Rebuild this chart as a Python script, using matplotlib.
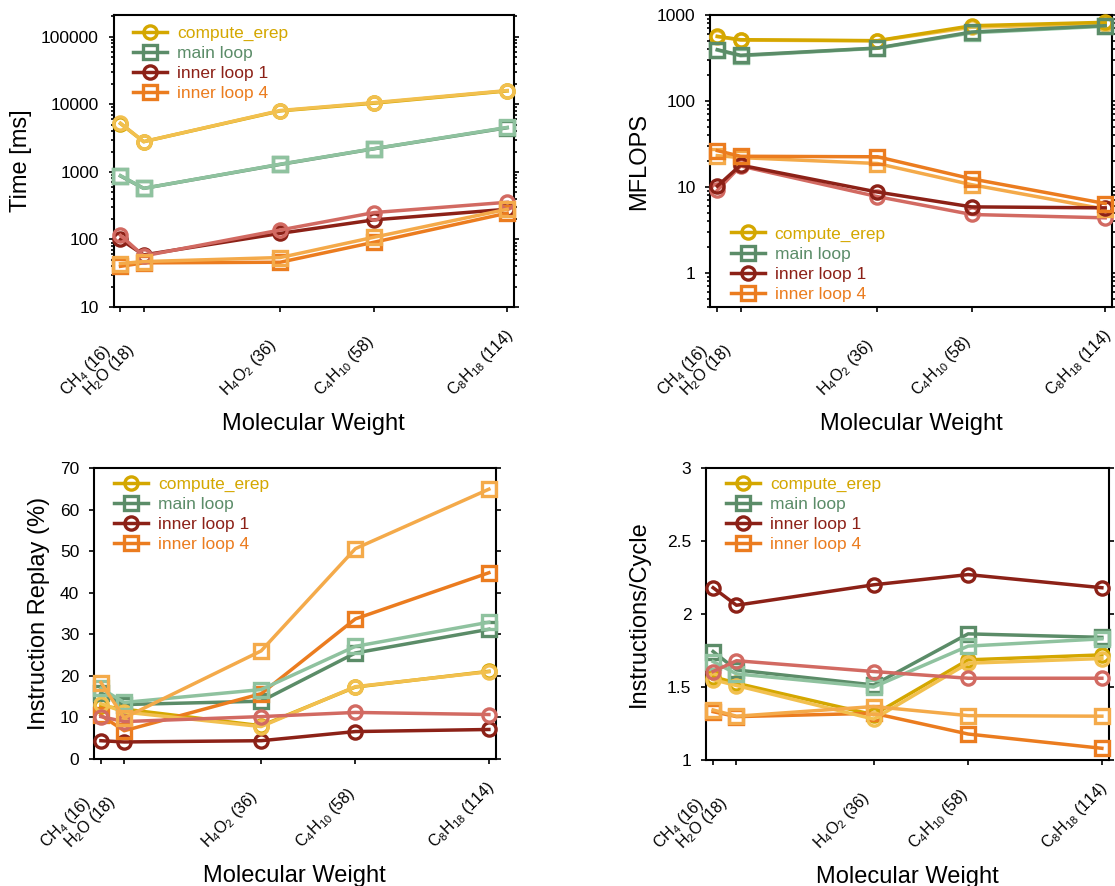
import matplotlib
matplotlib.use("Agg")
import matplotlib.pyplot as plt
from matplotlib import ticker, transforms

plt.rcParams["font.family"] = ["Liberation Sans", "DejaVu Sans"]
plt.rcParams["mathtext.fontset"] = "custom"
plt.rcParams["mathtext.rm"] = "Liberation Sans"
plt.rcParams["mathtext.it"] = "Liberation Sans:italic"
plt.rcParams["mathtext.bf"] = "Liberation Sans:bold"

# molecules on the x axis (molecular weight)
mol_weight = [16, 18, 36, 58, 114]
mol_labels = [r"CH$_4$ (16)", r"H$_2$O (18)", r"H$_4$O$_2$ (36)",
              r"C$_4$H$_{10}$ (58)", r"C$_8$H$_{18}$ (114)"]

names = ["compute_erep", "main loop", "inner loop 1", "inner loop 4"]
dark_colors = ["#D4A700", "#5B8C68", "#8C2117", "#EB7C1F"]
light_colors = ["#F2C04F", "#8FC29F", "#D26A62", "#F4AA4A"]
markers = ["o", "s", "o", "s"]

# Time [ms] - dark = first run, light = second run
time_erep = [5200, 2800, 8000, 10400, 15800]
time_erep_2 = [5250, 2800, 8100, 10600, 16000]
time_main = [870, 570, 1290, 2200, 4500]
time_main_2 = [880, 570, 1300, 2210, 4550]
time_il1 = [100, 59, 123, 195, 280]
time_il1_2 = [115, 57, 138, 250, 355]
time_il4 = [40, 45, 46, 91, 245]
time_il4_2 = [44, 47, 54, 108, 280]

# MFLOPS
mflops_erep = [565, 516, 503, 750, 822]
mflops_erep_2 = [560, 510, 500, 720, 790]
mflops_main = [395, 340, 413, 634, 751]
mflops_main_2 = [390, 335, 410, 620, 740]
mflops_il1 = [10.2, 17.9, 8.7, 5.85, 5.7]
mflops_il1_2 = [9.1, 17.5, 7.7, 4.77, 4.36]
mflops_il4 = [26.4, 22.7, 22.4, 12.4, 6.4]
mflops_il4_2 = [23.1, 21.9, 18.7, 10.6, 5.5]

# Instruction replay (%)
replay_erep = [12.8, 12.0, 8.0, 17.3, 21.1]
replay_erep_2 = [13.3, 11.3, 7.8, 17.4, 21.0]
replay_main = [15.9, 13.1, 13.9, 25.5, 31.2]
replay_main_2 = [17.0, 13.6, 16.7, 27.1, 32.9]
replay_il1 = [4.4, 4.1, 4.4, 6.6, 7.1]
replay_il1_2 = [10.2, 9.0, 10.2, 11.2, 10.7]
replay_il4 = [10.5, 6.8, 15.7, 33.7, 44.8]
replay_il4_2 = [18.4, 9.9, 26.0, 50.6, 64.9]

# Instructions per cycle
ipc_erep = [1.571, 1.526, 1.31, 1.686, 1.72]
ipc_erep_2 = [1.55, 1.51, 1.28, 1.663, 1.695]
ipc_main = [1.743, 1.617, 1.514, 1.864, 1.84]
ipc_main_2 = [1.674, 1.59, 1.50, 1.78, 1.83]
ipc_il1 = [2.18, 2.06, 2.20, 2.27, 2.18]
ipc_il1_2 = [1.606, 1.68, 1.606, 1.56, 1.56]
ipc_il4 = [1.331, 1.297, 1.32, 1.178, 1.08]
ipc_il4_2 = [1.343, 1.30, 1.366, 1.304, 1.30]

W, H = 1115, 886
fig = plt.figure(figsize=(W / 100, H / 100), dpi=100)


def add_axes_px(left, right, top, bottom):
    return fig.add_axes([left / W, 1 - bottom / H, (right - left) / W, (bottom - top) / H])


def draw_panel(ax, dark, light, ylabel, label_x, log_y, ylim, yticks, leg_loc, leg_anchor,
               light_on_top=True):
    handles = []
    for i in range(4):
        z_dark, z_light = (3, 3.5) if light_on_top else (3.5, 3)
        line, = ax.plot(mol_weight, dark[i], color=dark_colors[i], marker=markers[i],
                        ms=9.5, mew=2.4, mfc="none", lw=2.5, clip_on=False,
                        zorder=z_dark + i * 0.01)
        ax.plot(mol_weight, light[i], color=light_colors[i], marker=markers[i],
                ms=9.5, mew=2.4, mfc="none", lw=2.5, clip_on=False,
                zorder=z_light + i * 0.01)
        handles.append(line)

    ax.set_xscale("log")
    ax.set_xlim(15.45, 118)
    ax.set_xticks(mol_weight)
    ax.set_xticklabels([])
    ax.xaxis.set_minor_locator(ticker.NullLocator())

    if log_y:
        ax.set_yscale("log")
        ax.yaxis.set_minor_locator(ticker.LogLocator(base=10, subs=range(2, 10)))
        ax.yaxis.set_minor_formatter(ticker.NullFormatter())
    ax.set_ylim(ylim)
    ax.set_yticks(yticks)
    ax.yaxis.set_major_formatter(ticker.FuncFormatter(lambda v, p: "%g" % v))

    ax.tick_params(axis="y", which="both", direction="out", left=True, right=True,
                   labelsize=12.5, pad=7, width=1.2)
    ax.tick_params(axis="y", which="major", length=3.6)
    ax.tick_params(axis="y", which="minor", length=2.2)
    ax.tick_params(axis="x", direction="out", top=False, length=3.6, width=1.2)
    for s in ax.spines.values():
        s.set_linewidth(1.5)

    # rotated molecule labels, left anchored below each tick
    lab_trans = transforms.offset_copy(ax.get_xaxis_transform(), fig=fig,
                                       x=-54, y=-89, units="dots")
    for xv, lab in zip(mol_weight, mol_labels):
        ax.text(xv, 0, lab, transform=lab_trans, rotation=45, rotation_mode="anchor",
                ha="left", va="baseline", fontsize=11.5)

    h_px = ax.get_position().height * H
    ax.set_xlabel("Molecular Weight", fontsize=17)
    ax.xaxis.set_label_coords(0.5, -106 / h_px)
    ax.set_ylabel(ylabel, fontsize=17)
    ax.yaxis.set_label_coords(label_x, 0.5)

    leg = ax.legend(handles, names, loc=leg_loc, bbox_to_anchor=leg_anchor, frameon=False,
                    fontsize=12.5, handlelength=1.95, handletextpad=0.57,
                    labelspacing=0.28, borderpad=0, borderaxespad=0)
    for t, c in zip(leg.get_texts(), dark_colors):
        t.set_color(c)


ax1 = add_axes_px(113.6, 514, 15, 307)
draw_panel(ax1,
           [time_erep, time_main, time_il1, time_il4],
           [time_erep_2, time_main_2, time_il1_2, time_il4_2],
           "Time [ms]", -0.204, True, (10, 2.1e5), [10, 100, 1000, 10000, 100000],
           "upper left", (0.0485, 0.964))

ax2 = add_axes_px(710.4, 1112, 15, 307)
draw_panel(ax2,
           [mflops_erep, mflops_main, mflops_il1, mflops_il4],
           [mflops_erep_2, mflops_main_2, mflops_il1_2, mflops_il4_2],
           "MFLOPS", -0.150, True, (0.4, 1000), [1, 10, 100, 1000],
           "lower left", (0.051, 0.018), light_on_top=False)

ax3 = add_axes_px(94, 495.7, 468, 759)
draw_panel(ax3,
           [replay_erep, replay_main, replay_il1, replay_il4],
           [replay_erep_2, replay_main_2, replay_il1_2, replay_il4_2],
           "Instruction Replay (%)", -0.110, False, (0, 70), list(range(0, 71, 10)),
           "upper left", (0.0505, 0.970))

ax4 = add_axes_px(706.2, 1108.7, 468, 760)
draw_panel(ax4,
           [ipc_erep, ipc_main, ipc_il1, ipc_il4],
           [ipc_erep_2, ipc_main_2, ipc_il1_2, ipc_il4_2],
           "Instructions/Cycle", -0.140, False, (1, 3), [1, 1.5, 2, 2.5, 3],
           "upper left", (0.050, 0.970))

fig.savefig("out.png", dpi=100)
